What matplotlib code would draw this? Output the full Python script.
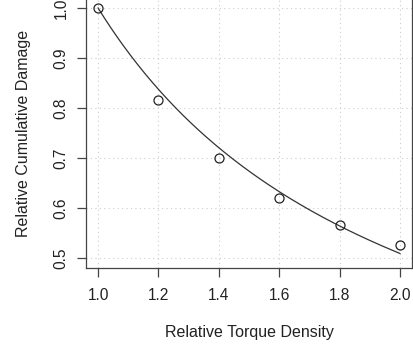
import numpy as np
import matplotlib
matplotlib.use("Agg")
import matplotlib.pyplot as plt

torque_density = [1.0, 1.2, 1.4, 1.6, 1.8, 2.0]
cumulative_damage = [1.0, 0.816, 0.700, 0.621, 0.566, 0.525]
x_ticks = [1.0, 1.2, 1.4, 1.6, 1.8, 2.0]
y_ticks = [0.5, 0.6, 0.7, 0.8, 0.9, 1.0]

plt.rcParams['font.family'] = ['Liberation Sans', 'DejaVu Sans']

W, H = 414, 353
fig = plt.figure(figsize=(W / 100, H / 100), dpi=100)
left, right, bottom, top = 86, 412, 268, -2
ax = fig.add_axes([left / W, (H - bottom) / H, (right - left) / W, (bottom - top) / H])

# power-law fit y = x^-b through the data
lx = np.log(torque_density)
ly = np.log(cumulative_damage)
b = -np.sum(lx * ly) / np.sum(lx * lx)
xs = np.linspace(min(torque_density), max(torque_density), 200)
ax.plot(xs, xs ** (-b), color='#333333', lw=0.9)
ax.plot(torque_density, cumulative_damage, 'o', mfc='none', mec='#222222', ms=6.5, mew=0.9)

ax.set_xlim(0.96, 2.04)
ax.set_ylim(0.48, 1.02)
ax.set_xticks(x_ticks)
ax.set_xticklabels([f"{v:.1f}" for v in x_ticks])
ax.set_yticks(y_ticks)
ax.set_yticklabels([f"{v:.1f}" for v in y_ticks], rotation=90, va='center')
ax.grid(True, color='#cccccc', linestyle=(0, (1, 3)), lw=0.8)
for s in ax.spines.values():
    s.set_color('#444444')
    s.set_linewidth(0.9)
ax.tick_params(axis='both', length=6.5, width=0.9, color='#444444', labelsize=11.2, colors='#222222')
ax.tick_params(axis='x', pad=8)
ax.tick_params(axis='y', pad=6)
ax.set_xlabel('Relative Torque Density', fontsize=11.5, color='#222222', labelpad=16)
ax.set_ylabel('Relative Cumulative Damage', fontsize=11.5, color='#222222', labelpad=16)

fig.savefig('out.png', dpi=100)
